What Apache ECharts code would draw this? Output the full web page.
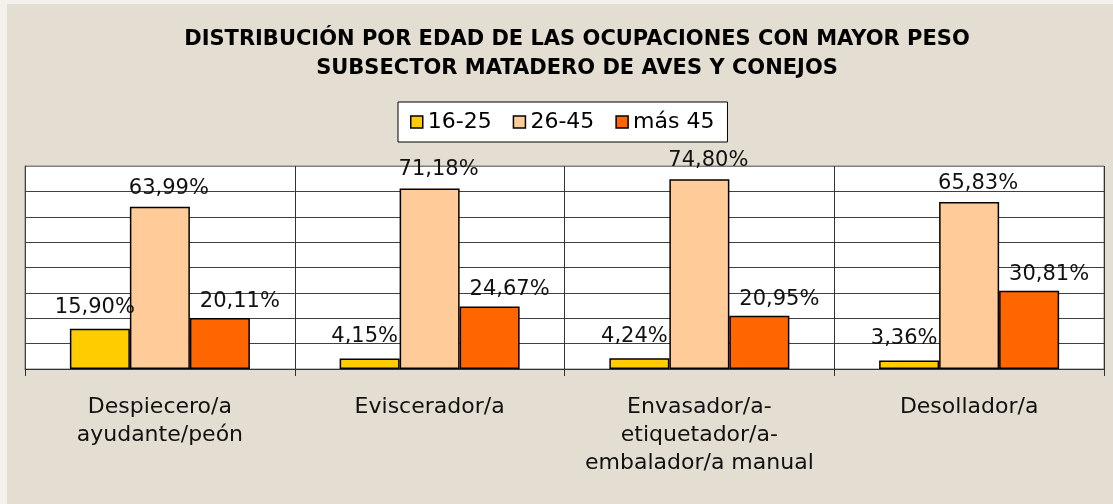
<!DOCTYPE html>
<html>
<head>
<meta charset="utf-8">
<script src="https://cdn.jsdelivr.net/npm/echarts@6/dist/echarts.min.js"></script>
<style>
html,body{margin:0;padding:0;background:#F4F1EC;}
#chart{position:absolute;left:7px;top:4px;width:1106px;height:500px;}
</style>
</head>
<body>
<div id="chart"></div>
<script>
var titleLines = ['DISTRIBUCIÓN POR EDAD DE LAS OCUPACIONES CON MAYOR PESO', 'SUBSECTOR MATADERO DE AVES Y CONEJOS'];
var categories = ['Despiecero/a\nayudante/peón', 'Eviscerador/a', 'Envasador/a-\netiquetador/a-\nembalador/a manual', 'Desollador/a'];
var seriesNames = ['16-25', '26-45', 'más 45'];
var age16to25 = [15.90, 4.15, 4.24, 3.36];
var age26to45 = [63.99, 71.18, 74.80, 65.83];
var ageOver45 = [20.11, 24.67, 20.95, 30.81];
var yTicks = [0, 10, 20, 30, 40, 50, 60, 70, 80];

var colors = ['#FFCC00', '#FFCC99', '#FF6600'];
var labelOffsets = [[-5, 0], [9, 0], [20, 0]];
var labelDistances = [11, 8, 6];

function fmt(p) { return p.value.toFixed(2).replace('.', ',') + '%'; }

var seriesData = [age16to25, age26to45, ageOver45];
var series = seriesData.map(function (d, i) {
  return {
    name: seriesNames[i],
    type: 'bar',
    data: d,
    barWidth: 60,
    barGap: '0%',
    itemStyle: { color: colors[i], borderColor: '#000', borderWidth: 1.5 },
    label: {
      show: true,
      position: 'top',
      distance: labelDistances[i],
      offset: labelOffsets[i],
      formatter: fmt,
      fontFamily: 'DejaVu Sans',
      fontSize: 21,
      color: '#111'
    }
  };
});

var chart = echarts.init(document.getElementById('chart'), null, { renderer: 'canvas' });
chart.setOption({
  backgroundColor: '#E4DDD1',
  animation: false,
  title: {
    text: titleLines.join('\n'),
    left: 565,
    top: 16,
    textAlign: 'center',
    textStyle: {
      fontFamily: 'DejaVu Sans',
      fontWeight: 'bold',
      fontSize: 21,
      lineHeight: 29,
      color: '#000'
    }
  },
  legend: {
    data: seriesNames,
    left: 391,
    top: 98,
    padding: [9, 13, 9, 12],
    itemGap: 21,
    itemWidth: 12,
    itemHeight: 12,
    backgroundColor: '#fff',
    borderColor: '#000',
    borderWidth: 1,
    borderRadius: 0,
    icon: 'rect',
    itemStyle: { borderColor: '#000', borderWidth: 1.5 },
    textStyle: { fontFamily: 'DejaVu Sans', fontSize: 22, color: '#000' }
  },
  grid: {
    left: 18,
    right: 9,
    top: 162,
    height: 203,
    show: true,
    backgroundColor: '#fff',
    borderColor: '#808080',
    borderWidth: 1,
    containLabel: false
  },
  xAxis: {
    type: 'category',
    data: categories,
    boundaryGap: true,
    axisLine: { show: true, lineStyle: { color: '#333', width: 1 } },
    axisTick: { show: true, length: 7, interval: 0, lineStyle: { color: '#333' } },
    splitLine: { show: true, interval: 0, lineStyle: { color: '#333', width: 1 } },
    axisLabel: {
      interval: 0,
      margin: 24,
      fontFamily: 'DejaVu Sans',
      fontSize: 22,
      lineHeight: 28,
      color: '#111'
    }
  },
  yAxis: {
    type: 'value',
    min: yTicks[0],
    max: yTicks[yTicks.length - 1],
    interval: yTicks[1] - yTicks[0],
    axisLabel: { show: false },
    axisTick: { show: false },
    axisLine: { show: true, lineStyle: { color: '#404040', width: 1 } },
    splitLine: { show: true, lineStyle: { color: ['#404040', '#404040', '#404040', '#404040', '#404040', '#404040', '#404040', '#404040', '#808080'], width: 1 } }
  },
  series: series
});
</script>
</body>
</html>
